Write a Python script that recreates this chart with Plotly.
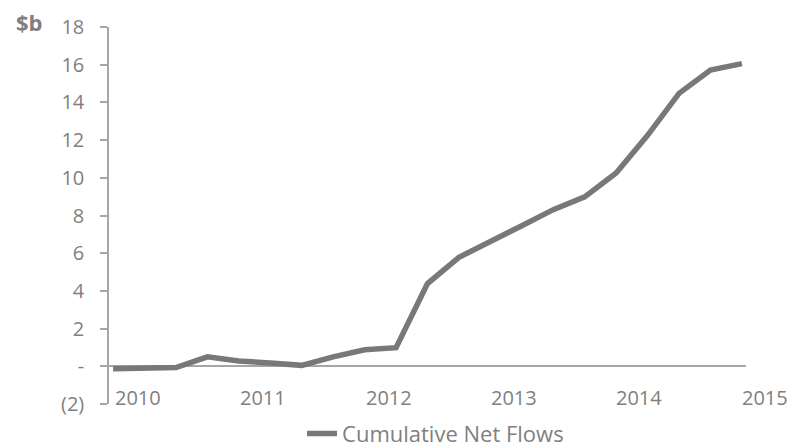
import plotly.graph_objects as go

# ---- data ----
quarter_index = list(range(21))
cumulative_net_flows = [-0.13, -0.10, -0.07, 0.50, 0.28, 0.18, 0.05, 0.50, 0.88, 0.99,
                        4.39, 5.78, 6.58, 7.46, 8.31, 8.99, 10.26, 12.25, 14.48, 15.72, 16.06]
series_name = "Cumulative Net Flows"
year_labels = ["2010", "2011", "2012", "2013", "2014", "2015"]
y_tick_values = [-2, 0, 2, 4, 6, 8, 10, 12, 14, 16, 18]
y_tick_text = ["(2)", "-", "2", "4", "6", "8", "10", "12", "14", "16", "18"]
unit_label = "$b"

# ---- style / layout constants ----
TEXT = "#7f7f7f"
LINE = "#787878"
AXIS = "#a6a6a6"
FONT = "Open Sans"
YEAR_OFFSET = 0.78   # position of first year label in quarter units
YEAR_STEP = 3.99
X_RANGE = [-0.13, 20.13]

fig = go.Figure()
fig.add_trace(go.Scatter(
    x=quarter_index, y=cumulative_net_flows, mode="lines", name=series_name,
    line=dict(color=LINE, width=5.5), showlegend=True,
))

# page body has an 8px default margin, so the figure is 8px smaller on each axis
fig.update_layout(
    width=792, height=440,
    margin=dict(l=101, r=54, t=19, b=44, pad=0, autoexpand=False),
    paper_bgcolor="white", plot_bgcolor="white",
    font=dict(family=FONT, color=TEXT, size=20),
    showlegend=True,
    legend=dict(orientation="h", x=0.5126, xanchor="center", y=-0.079, yanchor="middle",
                font=dict(size=22, color=TEXT, family=FONT), bgcolor="rgba(0,0,0,0)",
                itemwidth=30),
    xaxis=dict(range=X_RANGE, showgrid=False, zeroline=False, showline=False,
               showticklabels=False, ticks=""),
    yaxis=dict(range=[-2, 18], tickvals=y_tick_values, ticktext=y_tick_text,
               showgrid=False, zeroline=True, zerolinecolor=AXIS, zerolinewidth=1.5,
               showline=True, linecolor=AXIS, linewidth=1.5,
               ticks="outside", ticklen=7, tickcolor=AXIS, tickwidth=1.5,
               ticklabelstandoff=12,
               tickfont=dict(size=20, color=TEXT, family=FONT)),
)

span = X_RANGE[1] - X_RANGE[0]
for k, lab in enumerate(year_labels):
    pos = YEAR_OFFSET + YEAR_STEP * k
    fig.add_annotation(x=(pos - X_RANGE[0]) / span, y=-1.68, xref="paper", yref="y",
                       text=lab, showarrow=False, xanchor="center", yanchor="middle",
                       font=dict(size=20, color=TEXT, family=FONT))

fig.add_annotation(x=-0.1248, y=1.013, xref="paper", yref="paper", text="<b>" + unit_label + "</b>",
                   showarrow=False, xanchor="center", yanchor="middle",
                   font=dict(size=22, color=TEXT, family=FONT))

fig.write_html("out.html")
